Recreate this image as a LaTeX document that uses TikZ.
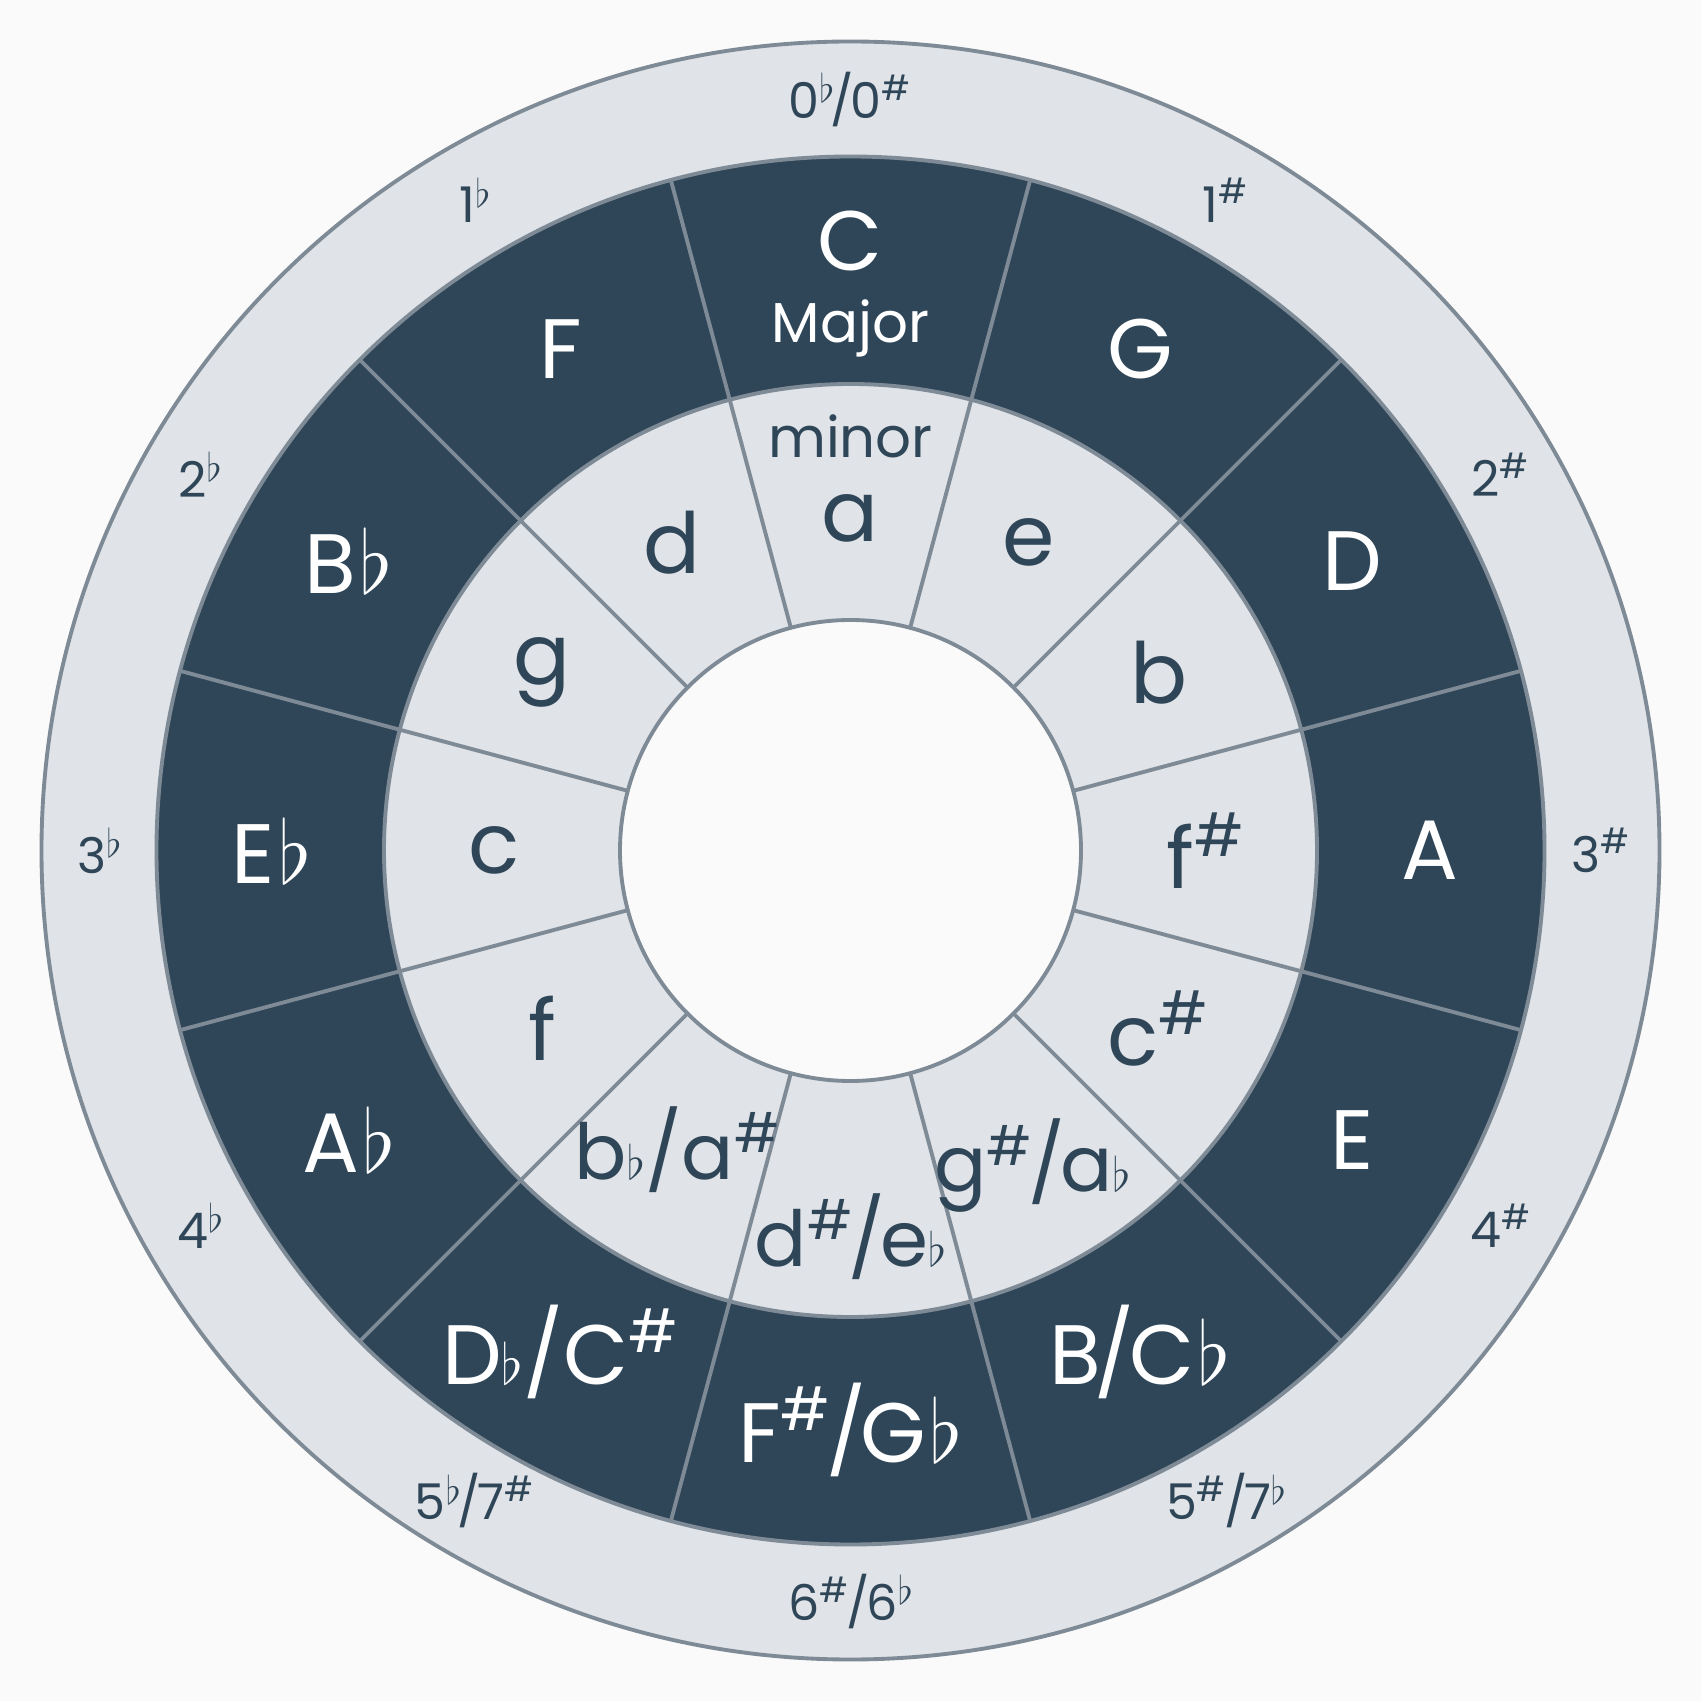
\documentclass[tikz,border=0pt]{standalone}
\usepackage{fontspec}
\setmainfont{Poppins}
\definecolor{bgpaper}{HTML}{FAFAFA}
\definecolor{ringlight}{HTML}{E0E3E7}
\definecolor{ringedge}{HTML}{7E8B96}
\definecolor{ringdark}{HTML}{2F4658}
\newcommand{\flt}{\kern0.04em$\flat$}
\newcommand{\sflt}{\scalebox{0.65}{$\flat$}}
\newcommand{\supflt}{\raisebox{0.32em}{\scalebox{0.78}{$\flat$}}}
\newcommand{\shp}{\textsuperscript{\#}}
\newcommand{\slsh}{\kern-0.07em/\kern-0.07em}
\newcommand{\pairsz}{\fontsize{22}{26}\selectfont}
\tikzset{
  majlbl/.style={text=white, font=\fontsize{24}{28}\selectfont},
  minlbl/.style={text=ringdark, font=\fontsize{24}{28}\selectfont},
  siglbl/.style={text=ringdark, font=\fontsize{14}{17}\selectfont},
  wordlbl/.style={font=\fontsize{16}{19}\selectfont},
  rimline/.style={draw=ringedge, line width=1.1pt}
}
\begin{document}
\begin{tikzpicture}
  \useasboundingbox (-8.505,-8.505) rectangle (8.505,8.505);
  \fill[bgpaper] (-8.505,-8.505) rectangle (8.505,8.505);
  % rings
  \filldraw[fill=ringlight, rimline] (0,0) circle (8.09);
  \filldraw[fill=ringdark, rimline] (0,0) circle (6.94);
  \filldraw[fill=ringlight, rimline] (0,0) circle (4.665);
  % dividers between keys
  \foreach \a in {15,45,...,345}
    \draw[rimline] (\a:2.305) -- (\a:6.94);
  \filldraw[fill=bgpaper, rimline] (0,0) circle (2.305);
  % keys, clockwise from the top
  \foreach \maj/\mnr/\sig/\rj/\rn [count=\i from 0] in {
      C/a/{0\supflt\slsh0\shp}/6.10/3.32,
      G/e/{1\shp}/5.79/3.56,
      D/b/{2\shp}/5.79/3.56,
      A/{f\shp}/{3\shp}/5.79/3.56,
      E/{c\shp}/{4\shp}/5.79/3.56,
      {B\slsh C\flt}/{\pairsz g\shp\slsh a\sflt}/{5\shp\slsh7\supflt}/5.79/3.64,
      {F\shp\slsh G\flt}/{\pairsz d\shp\slsh e\sflt}/{6\shp\slsh6\supflt}/5.79/3.86,
      {D\sflt/C\shp}/{\pairsz b\sflt/a\shp}/{5\supflt\slsh7\shp}/5.79/3.45,
      {A\flt}/f/{4\supflt}/5.79/3.56,
      {E\flt}/c/{3\supflt}/5.79/3.56,
      {B\flt}/g/{2\supflt}/5.79/3.56,
      F/d/{1\supflt}/5.79/3.56}
  {
    \node[majlbl] (maj\i) at ({90-30*\i}:\rj) {\maj};
    \node[minlbl] (min\i) at ({90-30*\i}:\rn) {\mnr};
    \node[siglbl] (sig\i) at ({90-30*\i}:7.51) {\sig};
  }
  \node[majlbl, wordlbl] (majorword) at (90:5.22) {Major};
  \node[minlbl, wordlbl] (minorword) at (90:4.14) {minor};
\end{tikzpicture}
\end{document}
